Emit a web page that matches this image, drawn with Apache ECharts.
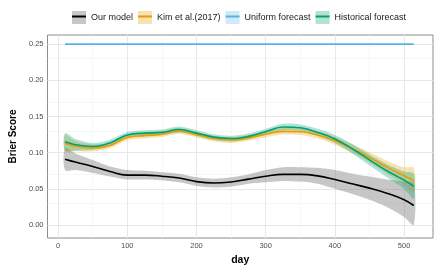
<!DOCTYPE html>
<html>
<head>
<meta charset="utf-8">
<script src="https://cdn.jsdelivr.net/npm/echarts@6/dist/echarts.min.js"></script>
<style>
  html, body { margin: 0; padding: 0; background: #fff; }
  #chart { width: 440px; height: 271px; }
</style>
</head>
<body>
<div id="chart"></div>
<script>
const days = [10, 25, 50, 75, 100, 125, 150, 175, 200, 225, 250, 275, 300, 325, 350, 375, 400, 425, 450, 475, 500, 514]

// Our model
const oursMean  = [0.091, 0.087, 0.081, 0.074, 0.069, 0.069, 0.0675, 0.065, 0.060, 0.058, 0.0595, 0.0635, 0.0675, 0.070, 0.070, 0.068, 0.063, 0.057, 0.051, 0.044, 0.035, 0.027]
const oursLower = [0.076, 0.076, 0.072, 0.067, 0.063, 0.063, 0.062, 0.059, 0.054, 0.052, 0.053, 0.057, 0.059, 0.061, 0.060, 0.057, 0.050, 0.043, 0.035, 0.025, 0.011, 0.000]
const oursUpper = [0.106, 0.099, 0.090, 0.081, 0.076, 0.075, 0.073, 0.071, 0.066, 0.064, 0.066, 0.070, 0.076, 0.080, 0.080, 0.079, 0.076, 0.071, 0.067, 0.063, 0.060, 0.058]

// Kim et al.(2017)
const kimMean  = [0.113, 0.109, 0.1065, 0.110, 0.121, 0.1235, 0.1255, 0.130, 0.125, 0.1195, 0.1175, 0.1205, 0.1255, 0.1295, 0.129, 0.1245, 0.1165, 0.1055, 0.0935, 0.080, 0.068, 0.0615]
const kimLower = [0.102, 0.102, 0.1015, 0.106, 0.117, 0.1195, 0.1215, 0.126, 0.121, 0.1155, 0.1135, 0.1165, 0.121, 0.125, 0.1245, 0.1195, 0.111, 0.0995, 0.0865, 0.071, 0.056, 0.045]
const kimUpper = [0.124, 0.116, 0.1115, 0.114, 0.125, 0.1275, 0.1295, 0.134, 0.129, 0.1235, 0.1215, 0.1245, 0.130, 0.134, 0.1335, 0.1295, 0.122, 0.1115, 0.1005, 0.089, 0.080, 0.079]

// Uniform forecast
const uniformMean = [0.25, 0.25, 0.25, 0.25, 0.25, 0.25, 0.25, 0.25, 0.25, 0.25, 0.25, 0.25, 0.25, 0.25, 0.25, 0.25, 0.25, 0.25, 0.25, 0.25, 0.25, 0.25]

// Historical forecast
const histMean  = [0.115, 0.111, 0.1085, 0.1135, 0.1245, 0.127, 0.128, 0.132, 0.127, 0.1215, 0.1195, 0.1225, 0.129, 0.1355, 0.1345, 0.128, 0.119, 0.1055, 0.090, 0.075, 0.062, 0.0535]
const histLower = [0.103, 0.103, 0.104, 0.109, 0.1205, 0.123, 0.124, 0.128, 0.123, 0.1175, 0.1155, 0.1185, 0.125, 0.131, 0.130, 0.123, 0.1135, 0.099, 0.0825, 0.066, 0.050, 0.036]
const histUpper = [0.127, 0.119, 0.1135, 0.118, 0.1285, 0.131, 0.132, 0.136, 0.131, 0.1255, 0.1235, 0.1265, 0.133, 0.140, 0.139, 0.133, 0.1245, 0.112, 0.0975, 0.084, 0.074, 0.071]

// axis ticks and grid
const xTicks = [0, 100, 200, 300, 400, 500]
const xMinor = [50, 150, 250, 350, 450]
const yTicks = [0, 0.05, 0.10, 0.15, 0.20, 0.25]
const yMinor = [0.025, 0.075, 0.125, 0.175, 0.225]

const FONT = 'Liberation Sans, Arial, sans-serif'

const models = [
  { name: 'Our model', mean: oursMean, lower: oursLower, upper: oursUpper, color: '#000000', band: 'rgba(130,130,130,0.45)', key: '#c7c7c7' },
  { name: 'Kim et al.(2017)', mean: kimMean, lower: kimLower, upper: kimUpper, color: '#E69F00', band: 'rgba(230,159,0,0.3)', key: '#f8e2b3' },
  { name: 'Uniform forecast', mean: uniformMean, color: '#56B4E9', key: '#d1e9f8' },
  { name: 'Historical forecast', mean: histMean, lower: histLower, upper: histUpper, color: '#009E73', band: 'rgba(0,158,115,0.3)', key: '#b3e2d5' }
]

const pairs = (ys) => days.map((d, i) => [d, ys[i]])

const series = []

// grid lines drawn as mark lines so they sit on the ggplot breaks
series.push({
  name: 'grid',
  type: 'line',
  data: [],
  silent: true,
  markLine: {
    z: 1,
    silent: true,
    symbol: 'none',
    animation: false,
    label: { show: false },
    data: [
      ...xMinor.map(v => ({ xAxis: v, lineStyle: { color: '#f2f2f2', width: 0.6, type: 'solid' } })),
      ...yMinor.map(v => ({ yAxis: v, lineStyle: { color: '#f2f2f2', width: 0.6, type: 'solid' } })),
      ...xTicks.map(v => ({ xAxis: v, lineStyle: { color: '#e8e8e8', width: 1, type: 'solid' } })),
      ...yTicks.map(v => ({ yAxis: v, lineStyle: { color: '#e8e8e8', width: 1, type: 'solid' } }))
    ]
  }
})

// confidence ribbons as one smoothed polygon per model
models.forEach((m) => {
  if (!m.lower) return
  series.push({
    name: m.name + ' band',
    type: 'custom',
    silent: true,
    z: 2,
    data: days.map((d, i) => [d, m.lower[i], m.upper[i]]),
    encode: { x: 0, y: [1, 2] },
    renderItem: (params, api) => {
      if (params.dataIndex !== 0) return
      const top = days.map((d, i) => api.coord([d, m.upper[i]]))
      const bottom = days.map((d, i) => api.coord([d, m.lower[i]])).reverse()
      return {
        type: 'polygon',
        shape: { points: top.concat(bottom), smooth: 0.3 },
        style: { fill: m.band },
        clipPath: {
          type: 'rect',
          shape: { x: params.coordSys.x, y: params.coordSys.y, width: params.coordSys.width, height: params.coordSys.height }
        }
      }
    }
  })
})

// fitted lines
models.forEach((m) => {
  series.push({
    name: m.name,
    type: 'line',
    data: pairs(m.mean),
    smooth: 0.4,
    showSymbol: false,
    symbol: 'none',
    lineStyle: { color: m.color, width: 1.6 },
    itemStyle: { color: m.color },
    z: 3
  })
})

const legendBase = {
  orient: 'horizontal',
  left: 72,
  padding: 0,
  itemWidth: 14,
  itemGap: 5,
  selectedMode: false,
  textStyle: { fontSize: 9, fontFamily: FONT, color: '#1a1a1a' }
}

const option = {
  animation: false,
  backgroundColor: '#ffffff',
  grid: {
    left: 33, right: 7, top: 35, bottom: 27,
    show: true,
    backgroundColor: '#ffffff',
    borderColor: '#8c8c8c',
    borderWidth: 1
  },
  legend: [
    Object.assign({}, legendBase, {
      top: 11,
      itemHeight: 13,
      data: models.map(m => ({ name: m.name, icon: 'rect', itemStyle: { color: m.key, borderWidth: 0 } }))
    }),
    Object.assign({}, legendBase, {
      top: 12,
      itemHeight: 2,
      textStyle: { fontSize: 9, fontFamily: FONT, color: 'rgba(0,0,0,0)' },
      data: models.map(m => ({ name: m.name, icon: 'rect', itemStyle: { color: m.color, borderWidth: 0 } }))
    })
  ],
  xAxis: {
    type: 'value',
    min: -15.3,
    max: 541.8,
    name: 'day',
    nameLocation: 'middle',
    nameGap: 17,
    nameTextStyle: { fontSize: 10.5, fontWeight: 'bold', fontFamily: FONT, color: '#000' },
    axisLine: { show: false },
    axisTick: { show: true, customValues: xTicks, length: 3, lineStyle: { color: '#4d4d4d' } },
    axisLabel: { customValues: xTicks, margin: 4, fontSize: 7.5, fontFamily: FONT, color: '#4d4d4d' },
    splitLine: { show: false }
  },
  yAxis: {
    type: 'value',
    min: -0.0179,
    max: 0.2626,
    name: 'Brier Score',
    nameLocation: 'middle',
    nameGap: 23,
    nameTextStyle: { fontSize: 10, fontWeight: 'bold', fontFamily: FONT, color: '#000' },
    axisLine: { show: false },
    axisTick: { show: true, customValues: yTicks, length: 3, lineStyle: { color: '#4d4d4d' } },
    axisLabel: {
      customValues: yTicks,
      margin: 4,
      fontSize: 7.5,
      fontFamily: FONT,
      color: '#4d4d4d',
      formatter: v => v.toFixed(2)
    },
    splitLine: { show: false }
  },
  series: series
}

const chart = echarts.init(document.getElementById('chart'), null, { renderer: 'canvas' })
chart.setOption(option)
</script>
</body>
</html>
